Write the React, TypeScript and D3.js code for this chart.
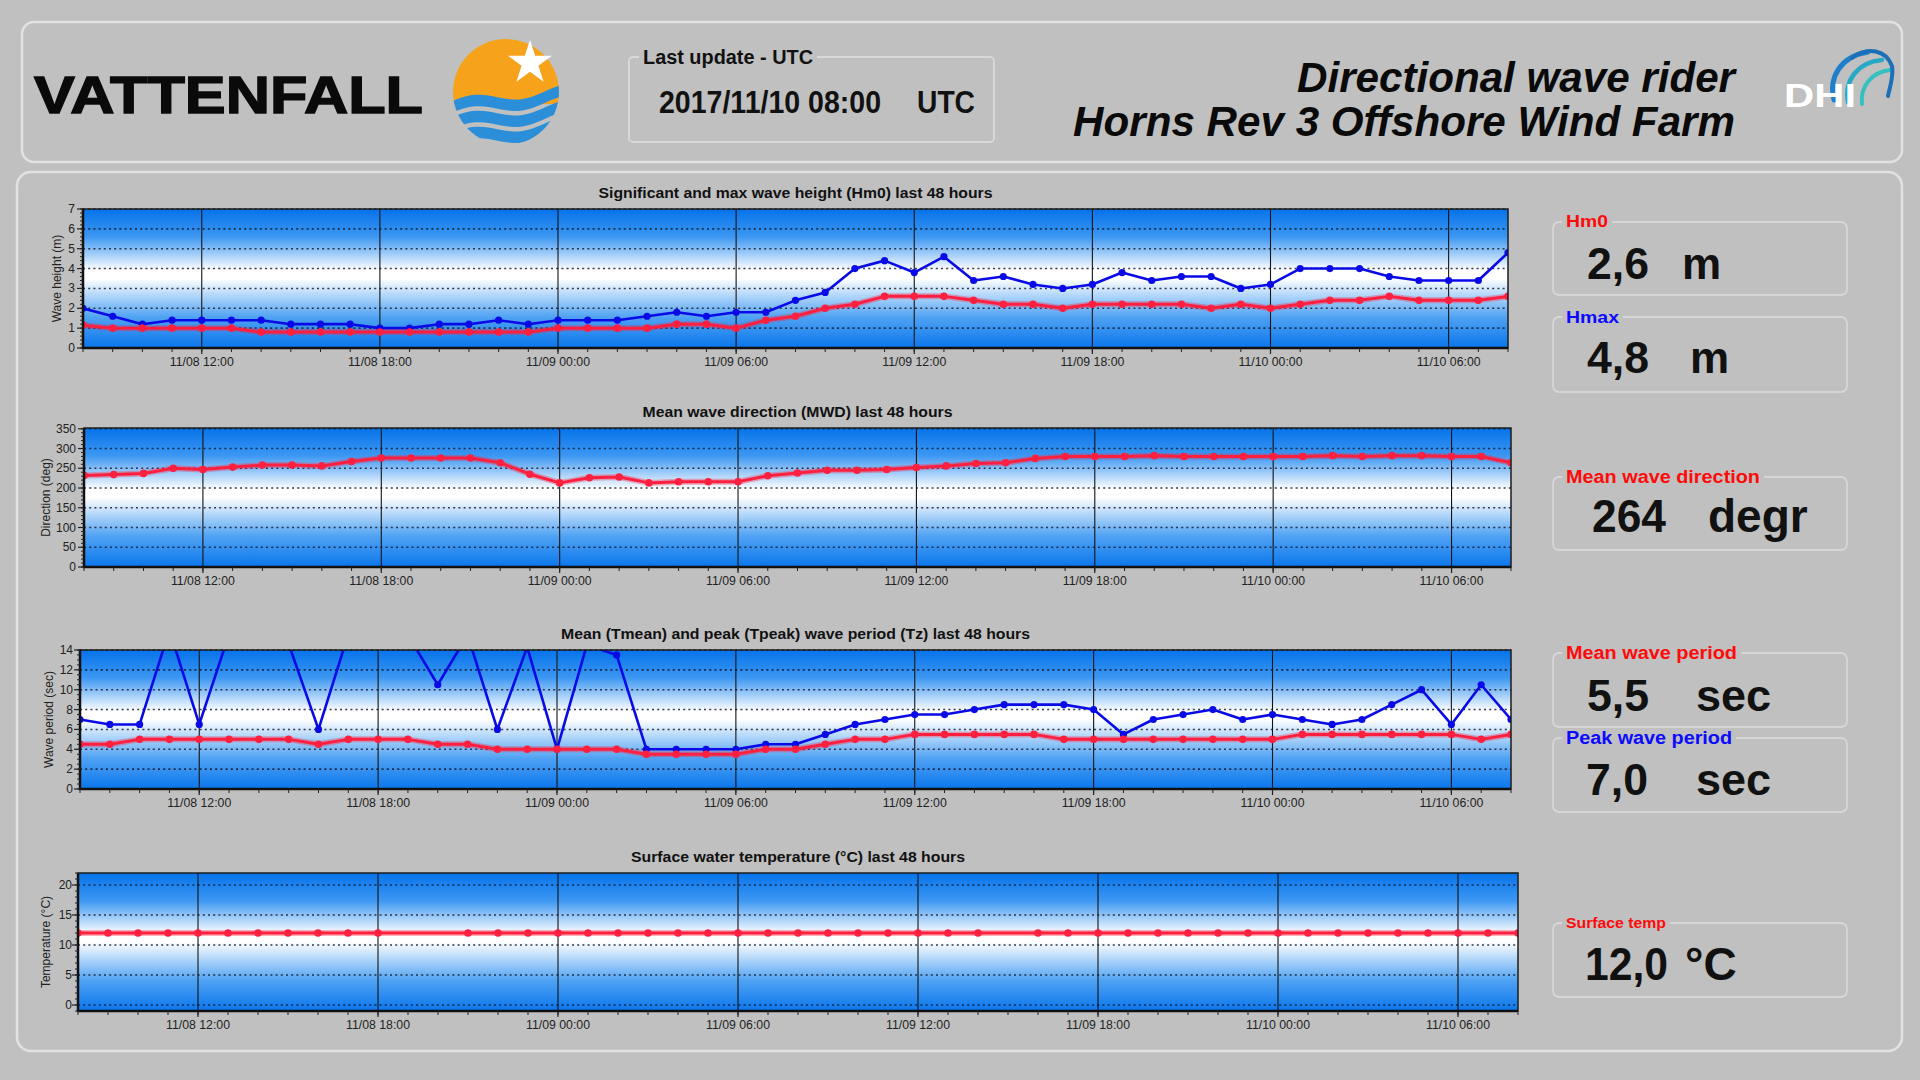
import React from 'react';
import * as d3 from 'd3';

// ---------------- DATA ----------------
const START_UTC = Date.UTC(2017, 10, 8, 8); // 11/08 08:00 UTC
const HOURS_SPAN = 48;

// hourly observations 11/08 08:00 ... 11/10 08:00 (49 values)
const hm0 = [1.15, 1.0, 1.0, 1.0, 1.0, 1.0, 0.8, 0.8, 0.8, 0.8, 0.8, 0.8, 0.8, 0.8, 0.8, 0.8,
  1.0, 1.0, 1.0, 1.0, 1.2, 1.2, 1.0, 1.4, 1.6, 2.0, 2.2, 2.6, 2.6, 2.6, 2.4, 2.2, 2.2, 2.0, 2.2, 2.2, 2.2, 2.2, 2.0, 2.2,
  2.0, 2.2, 2.4, 2.4, 2.6, 2.4, 2.4, 2.4, 2.6];
const hmax = [2.0, 1.6, 1.2, 1.4, 1.4, 1.4, 1.4, 1.2, 1.2, 1.2, 1.0, 1.0, 1.2, 1.2, 1.4, 1.2,
  1.4, 1.4, 1.4, 1.6, 1.8, 1.6, 1.8, 1.8, 2.4, 2.8, 4.0, 4.4, 3.8, 4.6, 3.4, 3.6, 3.2, 3.0, 3.2, 3.8, 3.4, 3.6, 3.6, 3.0,
  3.2, 4.0, 4.0, 4.0, 3.6, 3.4, 3.4, 3.4, 4.8];
const mwd = [232, 234, 237, 250, 247, 253, 258, 258, 256, 267, 276, 276, 276, 276, 264, 235,
  213, 226, 228, 213, 216, 216, 216, 231, 238, 245, 245, 247, 252, 256, 262, 264, 275, 280, 280, 280, 282, 280, 280, 280,
  280, 280, 282, 280, 282, 282, 280, 280, 264];
const tmean = [4.5, 4.5, 5.0, 5.0, 5.0, 5.0, 5.0, 5.0, 4.5, 5.0, 5.0, 5.0, 4.5, 4.5, 4.0, 4.0,
  4.0, 4.0, 4.0, 3.5, 3.5, 3.5, 3.5, 4.0, 4.0, 4.5, 5.0, 5.0, 5.5, 5.5, 5.5, 5.5, 5.5, 5.0, 5.0, 5.0, 5.0, 5.0, 5.0, 5.0,
  5.0, 5.5, 5.5, 5.5, 5.5, 5.5, 5.5, 5.0, 5.5];
const tpeak = [7.0, 6.5, 6.5, 16.0, 6.5, 15.6, 16.0, 14.6, 6.0, 15.6, 16.0, 15.5, 10.5, 15.5, 6.0, 14.3,
  4.0, 14.5, 13.5, 4.0, 4.0, 4.0, 4.0, 4.5, 4.5, 5.5, 6.5, 7.0, 7.5, 7.5, 8.0, 8.5, 8.5, 8.5, 8.0, 5.5, 7.0, 7.5, 8.0, 7.0,
  7.5, 7.0, 6.5, 7.0, 8.5, 10.0, 6.5, 10.5, 7.0];
const sst: (number | null)[] = [12.0, 12.0, 12.0, 12.0, 12.0, 12.0, 12.0, 12.0, 12.0, 12.0, 12.0, null, null, 12.0, 12.0, 12.0,
  12.0, 12.0, 12.0, 12.0, 12.0, 12.0, 12.0, 12.0, 12.0, 12.0, 12.0, 12.0, 12.0, 12.0, 12.0, null, 12.0, 12.0, 12.0, 12.0, 12.0, 12.0, 12.0, 12.0,
  12.0, 12.0, 12.0, 12.0, 12.0, 12.0, 12.0, 12.0, 12.0];

const heightTicks = [0, 1, 2, 3, 4, 5, 6, 7];
const directionTicks = [0, 50, 100, 150, 200, 250, 300, 350];
const periodTicks = [0, 2, 4, 6, 8, 10, 12, 14];
const tempTicks = [0, 5, 10, 15, 20];

const chartTitles = [
  'Significant and max wave height (Hm0) last 48 hours',
  'Mean wave direction (MWD) last 48 hours',
  'Mean (Tmean) and peak (Tpeak) wave period (Tz) last 48 hours',
  'Surface water temperature (°C) last 48 hours',
];
const axisLabels = ['Wave height (m)', 'Direction (deg)', 'Wave period (sec)', 'Temperature (°C)'];

const lastUpdate = '2017/11/10 08:00';

// ---------------- STYLE ----------------
const FONT = '"Liberation Sans", Arial, sans-serif';
const BG = '#c0c0c0';
const BLUE = '#0a0ae6';
const RED = '#ff1f3f';

const times = d3.range(HOURS_SPAN + 1).map((h) => new Date(START_UTC + h * 3600e3));
const fmt = d3.utcFormat('%m/%d %H:%M');
const commaFmt = (v: number, d: number) => v.toFixed(d).replace('.', ',');

type Series = { values: (number | null)[]; color: string; r: number; w: number; halo?: boolean };

function Chart(props: {
  id: string; x0: number; x1: number; y0: number; y1: number;
  domain: [number, number]; ticks: number[]; minorStep: number;
  yLabel: string; labelX: number; tickRight: number;
  title: string; titleY: number; titleLen: number; series: Series[];
}) {
  const { id, x0, x1, y0, y1, domain, ticks, minorStep, yLabel, labelX, tickRight, title, titleY, titleLen, series } = props;
  const x = d3.scaleUtc().domain([times[0], times[times.length - 1]]).range([x0, x1]);
  const y = d3.scaleLinear().domain(domain).range([y1, y0]);
  const majorX = x.ticks(d3.utcHour.every(6) as any);
  const minorX = x.ticks(d3.utcHour.every(1) as any);
  const minorY = d3.range(Math.ceil(domain[0] / minorStep) * minorStep, domain[1] + 1e-9, minorStep);
  const line = d3.line<{ t: Date; v: number }>().x((d) => x(d.t)).y((d) => y(d.v));
  const gid = `grad-${id}`;
  const cid = `clip-${id}`;
  return (
    <g>
      <defs>
        <linearGradient id={gid} x1="0" y1="0" x2="0" y2="1">
          <stop offset="0" stopColor="#0673ea" />
          <stop offset="0.2" stopColor="#3c97f2" />
          <stop offset="0.44" stopColor="#ffffff" />
          <stop offset="0.5" stopColor="#ffffff" />
          <stop offset="0.78" stopColor="#4fa2f3" />
          <stop offset="1" stopColor="#0a76ec" />
        </linearGradient>
        <clipPath id={cid}>
          <rect x={x0} y={y0} width={x1 - x0} height={y1 - y0} />
        </clipPath>
      </defs>
      <text x={(x0 + x1) / 2} y={titleY} textAnchor="middle" fontFamily={FONT} fontWeight="bold" fontSize={14.5}
        textLength={titleLen} lengthAdjust="spacingAndGlyphs" fill="#111">{title}</text>
      <rect x={x0} y={y0} width={x1 - x0} height={y1 - y0} fill={`url(#${gid})`} />
      {ticks.map((t) => (
        <line key={`g${t}`} x1={x0} x2={x1} y1={y(t)} y2={y(t)} stroke="#1a1a2a" strokeWidth={1.6} strokeDasharray="2 3.2" opacity={0.85} />
      ))}
      {majorX.map((t, i) => (
        <line key={`v${i}`} x1={x(t)} x2={x(t)} y1={y0} y2={y1} stroke="#141414" strokeWidth={1.1} />
      ))}
      <g clipPath={`url(#${cid})`}>
        {series.map((s, si) => {
          const pts = s.values.map((v, i) => ({ t: times[i], v })).filter((d) => d.v != null) as { t: Date; v: number }[];
          const d = line(pts) || '';
          return (
            <g key={si}>
              {s.halo && <path d={d} fill="none" stroke={s.color} strokeOpacity={0.35} strokeWidth={s.w + 3} strokeLinejoin="round" />}
              <path d={d} fill="none" stroke={s.color} strokeWidth={s.w} strokeLinejoin="round" />
              {pts.map((p, i) => (
                <circle key={i} cx={x(p.t)} cy={y(p.v)} r={s.r} fill={s.color} />
              ))}
            </g>
          );
        })}
      </g>
      <rect x={x0} y={y0} width={x1 - x0} height={y1 - y0} fill="none" stroke="#1c1c1c" strokeWidth={1.5} />
      <line x1={x0} x2={x0} y1={y0} y2={y1 + 1} stroke="#101010" strokeWidth={2.5} />
      <line x1={x0 - 1} x2={x1} y1={y1} y2={y1} stroke="#101010" strokeWidth={2.5} />
      {minorY.map((t, i) => (
        <line key={`my${i}`} x1={x0 - 3} x2={x0} y1={y(t)} y2={y(t)} stroke="#222" strokeWidth={1} />
      ))}
      {ticks.map((t) => (
        <g key={`yt${t}`}>
          <line x1={x0 - 6} x2={x0} y1={y(t)} y2={y(t)} stroke="#222" strokeWidth={1.2} />
          <text x={tickRight} y={y(t) + 4} textAnchor="end" fontFamily={FONT} fontSize={12} fill="#222">{t}</text>
        </g>
      ))}
      {minorX.map((t, i) => (
        <line key={`mx${i}`} x1={x(t)} x2={x(t)} y1={y1} y2={y1 + 4} stroke="#222" strokeWidth={1} />
      ))}
      {majorX.map((t, i) => (
        <g key={`xt${i}`}>
          <line x1={x(t)} x2={x(t)} y1={y1} y2={y1 + 6} stroke="#222" strokeWidth={1.2} />
          <text x={x(t)} y={y1 + 18} textAnchor="middle" fontFamily={FONT} fontSize={12} fill="#222"
            textLength={64} lengthAdjust="spacingAndGlyphs">{fmt(t)}</text>
        </g>
      ))}
      <text transform={`translate(${labelX},${(y0 + y1) / 2}) rotate(-90)`} textAnchor="middle" fontFamily={FONT}
        fontSize={12} fill="#222">{yLabel}</text>
    </g>
  );
}

function ValueBox(props: { y: number; h: number; label: string; labelColor: string; labelSize: number; labelLen: number;
  labelBase: number; value: string; unit: string; valueBase: number; valueSize: number; valueX: number; unitX: number; valueLen: number }) {
  const { y, h, label, labelColor, labelSize, labelLen, labelBase, value, unit, valueBase, valueSize, valueX, unitX, valueLen } = props;
  return (
    <g>
      <rect x={1553} y={y} width={294} height={h} rx={6} fill="none" stroke="#d6d6d6" strokeWidth={1.8} />
      <rect x={1562} y={y - 8} width={labelLen + 8} height={16} fill={BG} />
      <text x={1566} y={labelBase} fontFamily={FONT} fontWeight="bold" fontSize={labelSize} fill={labelColor}
        textLength={labelLen} lengthAdjust="spacingAndGlyphs">{label}</text>
      <text x={valueX} y={valueBase} fontFamily={FONT} fontWeight="bold" fontSize={valueSize} fill="#111"
        textLength={valueLen} lengthAdjust="spacingAndGlyphs">{value}</text>
      <text x={unitX} y={valueBase} fontFamily={FONT} fontWeight="bold" fontSize={valueSize} fill="#111">{unit}</text>
    </g>
  );
}

function VattenfallLogo() {
  const cx = 506, cy = 92, r = 53;
  const bands = [0, 1, 2].map((i) => {
    const top = cy + 4 + i * 16;
    const n = 24;
    const xs = d3.range(n + 1).map((k) => cx - r + (2 * r * k) / n);
    const wave = (xx: number, off: number) => top + off + 5 * Math.sin(((xx - cx) / r) * Math.PI * 1.1 + 0.6) - (xx - cx) * 0.12;
    const upper = xs.map((xx) => [xx, wave(xx, 0)] as [number, number]);
    const lower = xs.slice().reverse().map((xx) => [xx, wave(xx, 11.5)] as [number, number]);
    return d3.line()([...upper, ...lower]) + 'Z';
  });
  const star = d3.symbol(d3.symbolStar, 600)();
  return (
    <g>
      <defs>
        <clipPath id="vf-clip"><circle cx={cx} cy={cy} r={r} /></clipPath>
      </defs>
      <g clipPath="url(#vf-clip)">
        <rect x={cx - r} y={cy - r} width={2 * r} height={2 * r} fill={BG} />
        <rect x={cx - r} y={cy - r} width={2 * r} height={r + 12} fill="#f7a21b" />
        {bands.map((d, i) => <path key={i} d={d} fill="#2a8fd8" />)}
      </g>
      <path d={star || ''} transform={`translate(${cx + 24},${cy - 29})`} fill="#ffffff" />
    </g>
  );
}

function DhiLogo() {
  return (
    <g fill="none" strokeLinecap="round">
      <path d="M1834,100 C1828,76 1842,56 1868,52" stroke="#1f7fc8" strokeWidth={5} />
      <path d="M1848,102 C1844,80 1858,62 1882,60" stroke="#27a9c6" strokeWidth={4.5} />
      <path d="M1862,104 C1860,86 1872,72 1890,70" stroke="#35c0c0" strokeWidth={4} />
      <path d="M1852,58 C1868,46 1886,50 1892,66 C1894,76 1890,86 1888,96" stroke="#1c6fb8" strokeWidth={4} />
      <text x={1784} y={107} fontFamily={FONT} fontWeight="bold" fontSize={34} fill="#ffffff" stroke="none"
        textLength={72} lengthAdjust="spacingAndGlyphs">DHI</text>
    </g>
  );
}

export default function App() {
  const last = hm0.length - 1;
  return (
    <svg width={1920} height={1080} style={{ position: 'absolute', left: 0, top: 0, background: BG }}>
      <rect x={0} y={0} width={1920} height={1080} fill={BG} />
      {/* header */}
      <rect x={22} y={22} width={1880} height={140} rx={12} fill={BG} stroke="#e2e2e2" strokeWidth={2.5} />
      <text x={34} y={113} fontFamily={FONT} fontWeight="bold" fontSize={52} fill="#0a0a0a" stroke="#0a0a0a" strokeWidth={1.4}
        textLength={389} lengthAdjust="spacingAndGlyphs">VATTENFALL</text>
      <VattenfallLogo />
      <rect x={629} y={57} width={365} height={85} rx={4} fill="none" stroke="#d8d8d8" strokeWidth={2} />
      <rect x={639} y={46} width={178} height={20} fill={BG} />
      <text x={643} y={64} fontFamily={FONT} fontWeight="bold" fontSize={20} fill="#111" textLength={170}
        lengthAdjust="spacingAndGlyphs">Last update - UTC</text>
      <text x={659} y={113} fontFamily={FONT} fontWeight="bold" fontSize={31} fill="#111" textLength={222}
        lengthAdjust="spacingAndGlyphs">{lastUpdate}</text>
      <text x={917} y={113} fontFamily={FONT} fontWeight="bold" fontSize={31} fill="#111" textLength={58}
        lengthAdjust="spacingAndGlyphs">UTC</text>
      <text x={1297} y={92} fontFamily={FONT} fontWeight="bold" fontStyle="italic" fontSize={43} fill="#0a0a0a"
        textLength={438} lengthAdjust="spacingAndGlyphs">Directional wave rider</text>
      <text x={1073} y={136} fontFamily={FONT} fontWeight="bold" fontStyle="italic" fontSize={43} fill="#0a0a0a"
        textLength={662} lengthAdjust="spacingAndGlyphs">Horns Rev 3 Offshore Wind Farm</text>
      <DhiLogo />

      {/* main panel */}
      <rect x={17} y={172} width={1885} height={879} rx={14} fill={BG} stroke="#e2e2e2" strokeWidth={2.5} />

      <Chart id="h" x0={83} x1={1508} y0={209} y1={348} domain={[0, 7]} ticks={heightTicks} minorStep={0.2}
        yLabel={axisLabels[0]} labelX={61} tickRight={75} title={chartTitles[0]} titleY={198} titleLen={394}
        series={[{ values: hmax, color: BLUE, r: 3.6, w: 2.6 }, { values: hm0, color: RED, r: 3.8, w: 3, halo: true }]} />
      <Chart id="d" x0={84} x1={1511} y0={428} y1={567} domain={[0, 352]} ticks={directionTicks} minorStep={10}
        yLabel={axisLabels[1]} labelX={50} tickRight={76} title={chartTitles[1]} titleY={417} titleLen={310}
        series={[{ values: mwd, color: RED, r: 3.8, w: 3, halo: true }]} />
      <Chart id="p" x0={80} x1={1511} y0={650} y1={789} domain={[0, 14]} ticks={periodTicks} minorStep={0.5}
        yLabel={axisLabels[2]} labelX={53} tickRight={73} title={chartTitles[2]} titleY={639} titleLen={469}
        series={[{ values: tpeak, color: BLUE, r: 3.6, w: 2.6 }, { values: tmean, color: RED, r: 3.8, w: 3, halo: true }]} />
      <Chart id="t" x0={78} x1={1518} y0={873} y1={1011} domain={[-1, 22]} ticks={tempTicks} minorStep={1}
        yLabel={axisLabels[3]} labelX={50} tickRight={72} title={chartTitles[3]} titleY={862} titleLen={334}
        series={[{ values: sst, color: RED, r: 3.8, w: 3, halo: true }]} />

      {/* current values */}
      <ValueBox y={222} h={73} label="Hm0" labelColor="#ff0a0a" labelSize={17} labelLen={42} labelBase={227}
        value={commaFmt(hm0[last], 1)} unit="m" valueBase={279} valueSize={44} valueX={1587} unitX={1682} valueLen={62} />
      <ValueBox y={317} h={75} label="Hmax" labelColor="#0a0aff" labelSize={17} labelLen={53} labelBase={323}
        value={commaFmt(hmax[last], 1)} unit="m" valueBase={373} valueSize={44} valueX={1587} unitX={1690} valueLen={62} />
      <ValueBox y={477} h={73} label="Mean wave direction" labelColor="#ff0a0a" labelSize={18} labelLen={194} labelBase={483}
        value={String(mwd[last])} unit="degr" valueBase={532} valueSize={46} valueX={1592} unitX={1708} valueLen={74} />
      <ValueBox y={653} h={74} label="Mean wave period" labelColor="#ff0a0a" labelSize={18} labelLen={171} labelBase={659}
        value={commaFmt(tmean[last], 1)} unit="sec" valueBase={711} valueSize={45} valueX={1587} unitX={1696} valueLen={62} />
      <ValueBox y={738} h={74} label="Peak wave period" labelColor="#0a0aff" labelSize={18} labelLen={166} labelBase={744}
        value={commaFmt(tpeak[last], 1)} unit="sec" valueBase={795} valueSize={45} valueX={1586} unitX={1696} valueLen={62} />
      <ValueBox y={923} h={74} label="Surface temp" labelColor="#ff0a0a" labelSize={15} labelLen={100} labelBase={928}
        value={commaFmt(sst[last] as number, 1)} unit="°C" valueBase={980} valueSize={46} valueX={1585} unitX={1685} valueLen={83} />
    </svg>
  );
}
